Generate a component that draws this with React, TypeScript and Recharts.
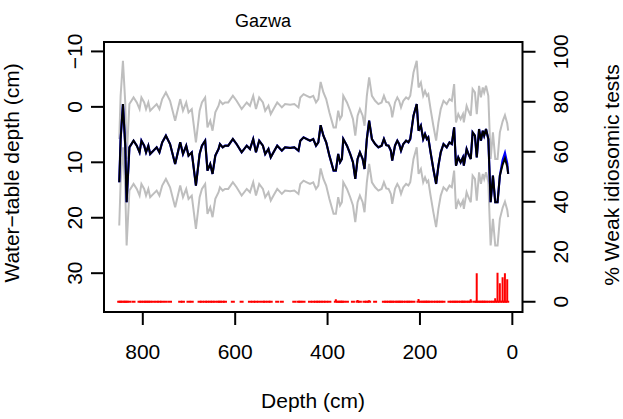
import React from 'react';
import { ComposedChart, Line, Bar, XAxis, YAxis, ReferenceArea } from 'recharts';

// core depths (cm) and reconstructed water-table depth (cm)
const depths = [
  851, 848, 843, 838, 835, 829, 820, 813, 807, 803, 797, 793, 788, 784, 777, 770, 764, 758, 750, 741,
  730, 719, 713, 706, 701, 694, 685, 677, 672, 665, 660, 654, 649, 643, 636, 633, 627, 622, 615, 605,
  597, 586, 575, 568, 561, 555, 548, 540, 535, 528, 523, 517, 509, 499, 492, 481, 472, 463, 459, 452,
  445, 438, 431, 425, 420, 415, 409, 403, 396, 387, 382, 377, 373, 369, 366, 358, 351, 345, 340, 335,
  330, 324, 320, 315, 310, 304, 297, 290, 283, 278, 273, 268, 263, 260, 254, 249, 245, 241, 236, 230,
  225, 221, 214, 207, 203, 198, 193, 189, 185, 182, 177, 171, 165, 160, 155, 149, 142, 136, 131, 126,
  122, 117, 112, 107, 105, 99, 95, 90, 86, 81, 77, 72, 68, 64, 61, 57, 52, 47, 42, 37,
  32, 27, 21, 16, 11, 9,
];

const waterTable = [
  13.6, 5.8, -0.5, 7, 17.2, 7.3, 6.1, 7, 8.2, 6.1, 7, 8.2, 7, 8.5, 7.9, 7.3, 8.2, 6.4, 5.2, 6.7,
  10.3, 6.4, 8.5, 7, 8.8, 8.2, 14.2, 8.5, 7, 6.1, 11.5, 10.3, 12.1, 8.8, 7.6, 6.7, 7.3, 7, 7, 5.8,
  6.7, 8.2, 7, 7.6, 5.8, 8.2, 6.1, 7, 8.5, 7.6, 9.1, 8.2, 7, 7.9, 7.3, 7.4, 7.3, 7.9, 6.1, 5.5,
  5.8, 6.1, 5.8, 7, 6.4, 3.3, 5.2, 6.4, 8.8, 11.5, 11.5, 8.5, 10, 9.4, 5.8, 7, 8.5, 10, 13, 9.4,
  8.2, 9.4, 11.2, 5.8, 2.5, 5.8, 6.7, 7.3, 7, 5.8, 6.9, 7, 7.9, 9.7, 7, 6.1, 6.7, 7.9, 6.7, 6.1,
  6.4, 5.8, 1.6, -0.5, 4.3, 3.4, 5.8, 4.9, 5.8, 5.5, 8.2, 11.2, 13.9, 10.6, 8.2, 6.7, 7.3, 6.4, 6.7, 3.7,
  10.6, 9.1, 10, 9.1, 10.6, 7.6, 8.5, 9.4, 4.6, 5.2, 9.1, 4, 6.1, 4.3, 5.2, 4, 5.8, 17.2, 12.4, 17.2,
  17.2, 12.4, 10.4, 9.3, 10.8, 12.1,
];

// second reconstruction, only where it departs from the main one
const altTail: Record<number, number> = { 21: 9.6, 16: 8.3, 11: 10.2 };

// prediction error (cm) for the grey band
const rmsep = 7.8;

// % weak idiosomic tests: non-zero samples, and samples without a count
const weakNonZero: Record<number, number> = {
  382: 1, 335: 0.7, 310: 0.6, 203: 1.1, 90: 1, 77: 11.4, 37: 1.4, 32: 11.6, 27: 7.4, 21: 9.8, 16: 11.4, 11: 9,
};
const weakMissing = [813, 730, 706, 685, 615, 597, 575, 517, 492, 481, 445, 387, 351, 340, 324, 304, 290, 283, 207, 142, 86, 9];

const depthTicks = [0, 200, 400, 600, 800];
const wtTicks = [-10, 0, 10, 20, 30];
const pctTicks = [0, 20, 40, 60, 80, 100];

const rows = depths.map((d, i) => ({
  depth: d,
  wt: waterTable[i],
  upper: waterTable[i] - rmsep,
  lower: waterTable[i] + rmsep,
  alt: altTail[d] ?? waterTable[i],
  weak: weakMissing.includes(d) ? null : weakNonZero[d] ?? 0,
}));

const FONT = '"Liberation Sans", Arial, Helvetica, sans-serif';

const XTick = ({ x, payload }: any) => (
  <text x={x} y={359} textAnchor="middle" fontFamily={FONT} fontSize={21} fill="#000">
    {payload.value}
  </text>
);

const LeftTick = ({ y, payload }: any) => (
  <text transform={`translate(82,${y}) rotate(-90)`} textAnchor="middle" fontFamily={FONT} fontSize={21} fill="#000">
    {payload.value < 0 ? `\u2212${Math.abs(payload.value)}` : payload.value}
  </text>
);

const RightTick = ({ y, payload }: any) => (
  <text transform={`translate(568,${y}) rotate(-90)`} textAnchor="middle" fontFamily={FONT} fontSize={21} fill="#000">
    {payload.value}
  </text>
);

// each sample: a short red tick on the zero line, plus a bar when the count is above zero
const WeakBar = (props: any) => {
  const { x, y, width, height, payload } = props;
  if (payload.weak == null) return <g />;
  const cx = x + width / 2;
  const base = y + height;
  return (
    <g>
      <rect x={cx - 2} y={base - 1} width={4} height={2} fill="#FF0000" />
      {height > 0.5 && <rect x={cx - 1} y={y} width={2} height={height} fill="#FF0000" />}
    </g>
  );
};

export default function App() {
  return (
    <div style={{ position: 'absolute', left: 0, top: 0, width: 623, height: 419, background: '#fff' }}>
      <ComposedChart width={623} height={419} data={rows} margin={{ top: 42, right: 40.5, bottom: 47, left: 44 }}>
        <XAxis
          dataKey="depth"
          type="number"
          domain={[-22, 884]}
          reversed
          allowDataOverflow
          ticks={depthTicks}
          interval={0}
          height={60}
          axisLine={false}
          tickSize={13}
          tickLine={{ stroke: '#000', strokeWidth: 2 }}
          tick={<XTick />}
        />
        <YAxis
          yAxisId="left"
          type="number"
          domain={[-11.7, 37]}
          reversed
          allowDataOverflow
          ticks={wtTicks}
          interval={0}
          width={60}
          axisLine={false}
          tickSize={13}
          tickMargin={0}
          tickLine={{ stroke: '#000', strokeWidth: 2 }}
          tick={<LeftTick />}
        />
        <YAxis
          yAxisId="right"
          orientation="right"
          type="number"
          domain={[-4.1, 103.9]}
          allowDataOverflow
          ticks={pctTicks}
          interval={0}
          width={60}
          axisLine={false}
          tickSize={13}
          tickMargin={0}
          tickLine={{ stroke: '#000', strokeWidth: 2 }}
          tick={<RightTick />}
        />
        <Bar yAxisId="right" dataKey="weak" barSize={2} shape={<WeakBar />} isAnimationActive={false} />
        <Line yAxisId="left" dataKey="upper" type="linear" stroke="#BEBEBE" strokeWidth={2} dot={false} isAnimationActive={false} />
        <Line yAxisId="left" dataKey="lower" type="linear" stroke="#BEBEBE" strokeWidth={2} dot={false} isAnimationActive={false} />
        <Line yAxisId="left" dataKey="alt" type="linear" stroke="#0000FF" strokeWidth={2.2} dot={false} isAnimationActive={false} />
        <Line yAxisId="left" dataKey="wt" type="linear" stroke="#000" strokeWidth={2} dot={false} isAnimationActive={false} />
        <ReferenceArea
          yAxisId="left"
          x1={-22}
          x2={884}
          y1={-11.7}
          y2={37}
          fill="none"
          stroke="#000"
          strokeWidth={2}
          ifOverflow="visible"
        />
      </ComposedChart>
      <svg width={623} height={419} style={{ position: 'absolute', left: 0, top: 0, pointerEvents: 'none' }}>
        <text x={263} y={27} textAnchor="middle" fontFamily={FONT} fontSize={18} fill="#000">
          Gazwa
        </text>
        <text x={313} y={408} textAnchor="middle" fontFamily={FONT} fontSize={21} fill="#000">
          Depth (cm)
        </text>
        <text transform="translate(19,173) rotate(-90)" textAnchor="middle" fontFamily={FONT} fontSize={21} fill="#000">
          {'Water\u2212table depth (cm)'}
        </text>
        <text transform="translate(619,175) rotate(-90)" textAnchor="middle" fontFamily={FONT} fontSize={21} fill="#000">
          % Weak idiosomic tests
        </text>
      </svg>
    </div>
  );
}
